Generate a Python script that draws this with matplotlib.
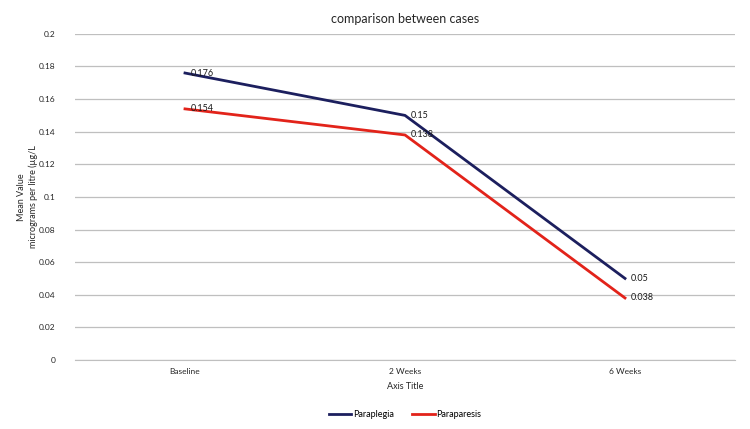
import matplotlib
matplotlib.use('Agg')
import matplotlib.pyplot as plt

categories = ['Baseline', '2 Weeks', '6 Weeks']
paraplegia = [0.176, 0.15, 0.05]
paraparesis = [0.154, 0.138, 0.038]
yticks = [0, 0.02, 0.04, 0.06, 0.08, 0.1, 0.12, 0.14, 0.16, 0.18, 0.2]

plt.rcParams['font.family'] = ['Lato', 'DejaVu Sans']

fig = plt.figure(figsize=(7.5, 4.29), dpi=100)
ax = fig.add_axes([0.1, 0.161, 0.88, 0.76])

x = range(len(categories))
series = [('Paraplegia', paraplegia, '#1c1f5e'), ('Paraparesis', paraparesis, '#e2231a')]
for name, vals, col in series:
    ax.plot(x, vals, color=col, linewidth=2, label=name)
    for xi, v in zip(x, vals):
        ax.annotate('{:g}'.format(v), (xi, v), xytext=(4, 0), textcoords='offset points',
                    fontsize=6.5, va='center', ha='left', color='#1a1a1a')

ax.set_xlim(-0.5, 2.5)
ax.set_ylim(0, 0.2)
ax.set_yticks(yticks)
ax.set_yticklabels(['{:g}'.format(t) for t in yticks])
ax.set_xticks(list(x))
ax.set_xticklabels(categories)
ax.tick_params(axis='both', length=0, labelsize=6, colors='#262626')
ax.tick_params(axis='x', pad=6)
ax.tick_params(axis='y', pad=14)
ax.yaxis.grid(True, color='#bfbfbf', linewidth=0.9)
ax.set_axisbelow(True)
for s in ['top', 'right', 'left']:
    ax.spines[s].set_visible(False)
ax.spines['bottom'].set_color('#bfbfbf')

ax.set_title('comparison between cases', fontsize=9, color='#262626', pad=8)
ax.set_xlabel('Axis Title', fontsize=6.5, color='#262626', labelpad=5)
ax.set_ylabel('Mean Value\nmicrograms per litre (µg/L', fontsize=6.5, color='#262626', labelpad=1)

ax.legend(loc='upper center', bbox_to_anchor=(0.5, -0.13), ncol=2, frameon=False,
          fontsize=6.5, handlelength=2.5, handletextpad=0.2, columnspacing=2)

fig.savefig('out.png', dpi=100)
